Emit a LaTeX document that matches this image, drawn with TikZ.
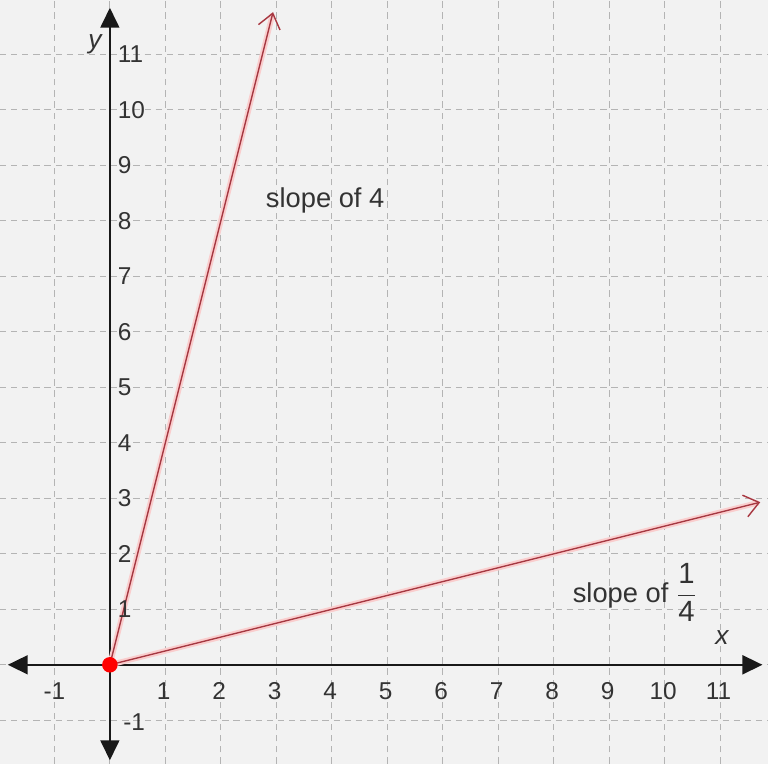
\documentclass[tikz,border=0pt]{standalone}
\usepackage{amsmath}
\usepackage{fontspec}
\setmainfont{Liberation Sans}
\usepackage{xcolor}
\usetikzlibrary{arrows.meta,positioning}

\definecolor{paper}{RGB}{242,242,242}
\definecolor{gridgray}{RGB}{180,180,180}
\definecolor{rayred}{RGB}{165,55,65}
\definecolor{rayglow}{RGB}{250,205,205}

\begin{document}
\begin{tikzpicture}[
  lbl/.style={font=\fontsize{12.5}{14}\selectfont, text=black!80, inner sep=1pt},
  axisline/.style={black!90, line width=1.1pt,
    {Triangle[length=3.6mm,width=3.4mm]}-{Triangle[length=3.6mm,width=3.4mm]}},
  ray/.style={rayred, line width=0.7pt,
    preaction={draw=rayglow, line width=2.8pt},
    -{Straight Barb[length=2.6mm,width=4mm,line width=0.7pt]}}]
% Frame and background
\fill[paper] (-1.98,-1.78) rectangle (11.86,11.98);
\useasboundingbox (-1.98,-1.78) rectangle (11.86,11.98);

% Grid
\draw[gridgray, dash pattern=on 3.2pt off 2.5pt, line width=0.5pt]
  (-1.98,-1.78) grid[step=1] (11.86,11.98);

% Axes
\coordinate (xl) at (-1.84,0);
\coordinate (xr) at (11.76,0);
\coordinate (yb) at (0,-1.72);
\coordinate (yt) at (0,11.84);
\draw[axisline] (xl) -- (xr);
\draw[axisline] (yb) -- (yt);

% Rays from the origin
\coordinate (O) at (0,0);
\coordinate (steep) at (2.94,11.76);
\coordinate (flat) at (11.72,2.93);
\draw[ray] (O) -- (steep);
\draw[ray] (O) -- (flat);
\fill[red] (O) circle (0.14);

% Tick labels
\node[lbl] (xm1) at (-1,-0.47) {-1};
\foreach \i in {1,...,11}
  \node[lbl] (x\i) at (\i-0.03,-0.47) {\i};
\node[lbl, anchor=west] (ym1) at (0.2,-1.03) {-1};
\foreach \j in {1,...,11}
  \node[lbl, anchor=west] (y\j) at (0.1,\j) {\j};

% Axis names
\node[lbl, font=\fontsize{13.5}{15}\selectfont\itshape] (xname) at (11.03,0.5) {x};
\node[lbl, font=\fontsize{13.5}{15}\selectfont\itshape] (yname) at (-0.27,11.18) {y};

% Slope labels
\node[lbl, font=\fontsize{14}{16}\selectfont] (s4) at (3.88,8.36) {slope of 4};
\node[lbl, font=\fontsize{14}{16}\selectfont, anchor=west] (s14) at (8.3,1.3)
  {slope of $\dfrac{\text{\fontsize{15}{16}\selectfont 1}}{\text{\fontsize{15}{16}\selectfont 4}}$};

\end{tikzpicture}
\end{document}
